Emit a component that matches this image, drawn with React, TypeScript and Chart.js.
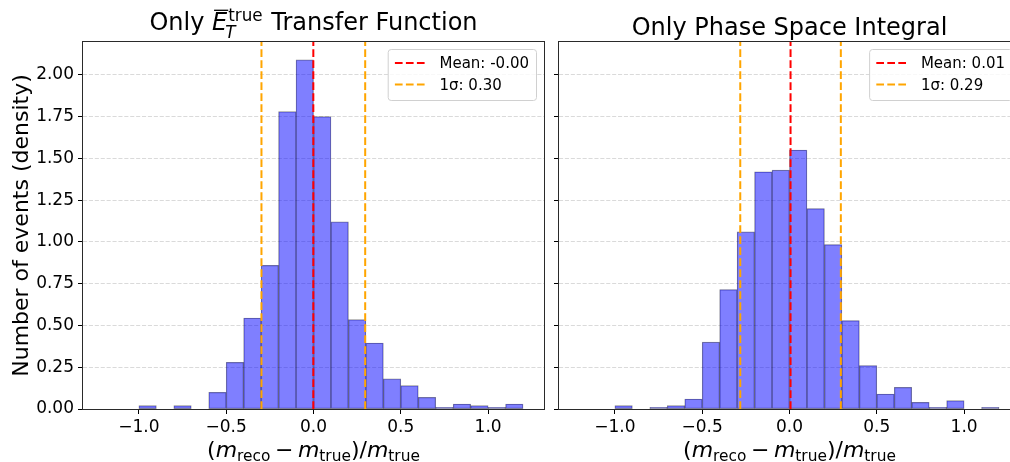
import React, { useEffect, useRef } from 'react';
import { Chart, registerables } from 'chart.js';

Chart.register(...registerables);

// ---------------- data ----------------
const BIN_CENTERS = [
  -1.15, -1.05, -0.95, -0.85, -0.75, -0.65, -0.55, -0.45, -0.35, -0.25, -0.15, -0.05,
  0.05, 0.15, 0.25, 0.35, 0.45, 0.55, 0.65, 0.75, 0.85, 0.95, 1.05, 1.15,
];
const TF_DENSITY = [
  0, 0, 0.02, 0, 0.02, 0, 0.10, 0.28, 0.545, 0.86, 1.78, 2.09,
  1.75, 1.12, 0.535, 0.395, 0.18, 0.14, 0.07, 0.01, 0.03, 0.02, 0.01, 0.03,
];
const PS_DENSITY = [
  0, 0, 0.02, 0, 0.01, 0.02, 0.06, 0.40, 0.715, 1.06, 1.42, 1.43,
  1.55, 1.20, 0.985, 0.53, 0.26, 0.09, 0.13, 0.04, 0.01, 0.05, 0, 0.01,
];
const TF_MEAN = -0.001;
const TF_SIGMA = 0.297;
const PS_MEAN = 0.006;
const PS_SIGMA = 0.288;
const X_TICKS = [-1.0, -0.5, 0.0, 0.5, 1.0];
const Y_TICKS = [0, 0.25, 0.5, 0.75, 1.0, 1.25, 1.5, 1.75, 2.0];
const X_MIN = -1.32;
const X_MAX = 1.32;
const Y_MAX = 2.197;
const Y_LABEL = 'Number of events (density)';

const FAMILY = '"DejaVu Sans"';
Chart.defaults.font.family = FAMILY;

type Run = {
  t?: string;
  size?: number;
  italic?: boolean;
  dy?: number;
  overline?: boolean;
  gapBefore?: number;
  gapAfter?: number;
  stack?: { sup: Run; sub: Run };
};

const fontOf = (r: Run) => `${r.italic ? 'italic ' : ''}${r.size}px ${FAMILY}`;

function runWidth(ctx: CanvasRenderingContext2D, r: Run): number {
  if (r.stack) return Math.max(runWidth(ctx, r.stack.sup), runWidth(ctx, r.stack.sub));
  ctx.font = fontOf(r);
  return (r.gapBefore || 0) + ctx.measureText(r.t || '').width + (r.gapAfter || 0);
}

function drawRun(ctx: CanvasRenderingContext2D, r: Run, x: number, base: number) {
  ctx.font = fontOf(r);
  const w = ctx.measureText(r.t || '').width;
  const x0 = x + (r.gapBefore || 0);
  ctx.fillText(r.t || '', x0, base + (r.dy || 0));
  if (r.overline) {
    ctx.save();
    ctx.strokeStyle = '#000';
    ctx.lineWidth = 1.3;
    ctx.beginPath();
    const oy = base + (r.dy || 0) - (r.size || 0) * 0.8;
    ctx.moveTo(x0 + 2, oy);
    ctx.lineTo(x0 + w + 1, oy);
    ctx.stroke();
    ctx.restore();
  }
}

function drawRuns(ctx: CanvasRenderingContext2D, runs: Run[], cx: number, base: number) {
  const total = runs.reduce((s, r) => s + runWidth(ctx, r), 0);
  let x = cx - total / 2;
  ctx.save();
  ctx.fillStyle = '#000';
  ctx.textBaseline = 'alphabetic';
  ctx.textAlign = 'left';
  for (const r of runs) {
    if (r.stack) {
      drawRun(ctx, r.stack.sup, x + 1, base);
      drawRun(ctx, r.stack.sub, x - 2, base);
    } else {
      drawRun(ctx, r, x, base);
    }
    x += runWidth(ctx, r);
  }
  ctx.restore();
}

const TITLE_TF: Run[] = [
  { t: 'Only ', size: 24 },
  { t: 'E', size: 24, italic: true, overline: true },
  { stack: { sup: { t: 'true', size: 16.8, dy: -8.6, gapAfter: 2 }, sub: { t: 'T', size: 16.8, italic: true, dy: 8 } } },
  { t: ' Transfer Function', size: 24 },
];
const TITLE_PS: Run[] = [{ t: 'Only Phase Space Integral', size: 24 }];
const X_LABEL: Run[] = [
  { t: '(', size: 22 },
  { t: 'm', size: 22, italic: true },
  { t: 'reco', size: 15.4, dy: 4 },
  { t: '\u2212', size: 22, gapBefore: 4.5, gapAfter: 4.5 },
  { t: 'm', size: 22, italic: true },
  { t: 'true', size: 15.4, dy: 4 },
  { t: ')', size: 22 },
  { t: '/', size: 22 },
  { t: 'm', size: 22, italic: true },
  { t: 'true', size: 15.4, dy: 4 },
];

type PanelCfg = {
  values: number[];
  mean: number;
  sigma: number;
  yWidth: number;
  padRight: number;
  showY: boolean;
  title: Run[];
  titleBase: number;
};

function makeChart(canvas: HTMLCanvasElement, cfg: PanelCfg) {
  const decor = {
    id: 'decor',
    afterDatasetsDraw(chart: any) {
      const { ctx, chartArea: a } = chart;
      ctx.save();
      ctx.strokeStyle = '#2a2a2a';
      ctx.lineWidth = 1;
      ctx.strokeRect(a.left - 0.5, a.top - 0.5, a.right - a.left + 1, a.bottom - a.top + 1);
      ctx.restore();
    },
    afterDraw(chart: any) {
      const { ctx, chartArea: a } = chart;
      const cx = (a.left + a.right) / 2;
      drawRuns(ctx, cfg.title, cx, cfg.titleBase);
      drawRuns(ctx, X_LABEL, cx, 456.5);
      if (cfg.showY) {
        ctx.save();
        ctx.translate(28, (a.top + a.bottom) / 2);
        ctx.rotate(-Math.PI / 2);
        ctx.font = `22px ${FAMILY}`;
        ctx.fillStyle = '#000';
        ctx.textAlign = 'center';
        ctx.textBaseline = 'alphabetic';
        ctx.fillText(Y_LABEL, 0, 0);
        ctx.restore();
      }
      // legend
      const labels = [`Mean: ${cfg.mean.toFixed(2)}`, `1\u03c3: ${cfg.sigma.toFixed(2)}`];
      const colors = ['#ff0000', '#ffa500'];
      ctx.save();
      ctx.font = `15px ${FAMILY}`;
      const tw = Math.max(...labels.map((l) => ctx.measureText(l).width));
      const bw = 6.7 + 31 + 13.6 + tw + 7.5;
      const bh = 51;
      const bx = a.right - 7.5 - bw;
      const by = a.top + 7.5;
      ctx.beginPath();
      ctx.roundRect(bx, by, bw, bh, 3);
      ctx.fillStyle = 'rgba(255,255,255,0.8)';
      ctx.fill();
      ctx.strokeStyle = '#d0d0d0';
      ctx.lineWidth = 1;
      ctx.stroke();
      labels.forEach((l, i) => {
        const y = by + 13.4 + i * 21.6;
        ctx.strokeStyle = colors[i];
        ctx.lineWidth = 2;
        ctx.setLineDash([7.7, 3.3]);
        ctx.beginPath();
        ctx.moveTo(bx + 6.7, y);
        ctx.lineTo(bx + 37.7, y);
        ctx.stroke();
        ctx.setLineDash([]);
        ctx.fillStyle = '#000';
        ctx.textAlign = 'left';
        ctx.textBaseline = 'alphabetic';
        ctx.fillText(l, bx + 51.3, y + 5.5);
      });
      ctx.restore();
    },
  };

  const vline = (x: number, color: string, order: number) => ({
    type: 'line' as const,
    data: [
      { x, y: 0 },
      { x, y: Y_MAX },
    ],
    borderColor: color,
    borderWidth: 2,
    borderDash: [7.7, 3.3],
    pointRadius: 0,
    fill: false,
    tension: 0,
    order,
  });

  const tickFont = { size: 17, family: FAMILY };

  return new Chart(canvas, {
    type: 'bar',
    data: {
      datasets: [
        {
          type: 'bar',
          data: BIN_CENTERS.map((x, i) => ({ x, y: cfg.values[i] })),
          backgroundColor: 'rgba(0,0,255,0.5)',
          borderColor: 'rgba(0,0,0,0.45)',
          borderWidth: 0.6,
          borderSkipped: false,
          barPercentage: 1,
          categoryPercentage: 1,
          order: 5,
        } as any,
        vline(cfg.mean, '#ff0000', 3),
        vline(cfg.mean - cfg.sigma, '#ffa500', 2),
        vline(cfg.mean + cfg.sigma, '#ffa500', 1),
      ],
    },
    options: {
      animation: false,
      responsive: false,
      devicePixelRatio: 1,
      events: [],
      layout: { padding: { top: 42, right: cfg.padRight, left: 0, bottom: 0 } },
      plugins: {
        legend: { display: false },
        tooltip: { enabled: false },
        title: { display: false },
      },
      scales: {
        x: {
          type: 'linear',
          min: X_MIN,
          max: X_MAX,
          offset: false,
          grid: {
            display: true,
            drawOnChartArea: false,
            drawTicks: true,
            tickLength: 5,
            tickColor: '#000',
            tickWidth: 1,
            offset: false,
          },
          border: { display: false },
          ticks: {
            font: tickFont,
            color: '#000',
            padding: 3,
            maxRotation: 0,
            autoSkip: false,
            callback: (v: any) => {
              const n = Number(v);
              return n < 0 ? '\u2212' + Math.abs(n).toFixed(1) : n.toFixed(1);
            },
          },
          afterBuildTicks: (ax: any) => {
            ax.ticks = X_TICKS.map((value) => ({ value }));
          },
          afterFit: (ax: any) => {
            ax.height = 53;
          },
        },
        y: {
          type: 'linear',
          min: 0,
          max: Y_MAX,
          grid: {
            color: 'rgba(176,176,176,0.6)',
            lineWidth: 0.8,
            drawTicks: true,
            tickLength: 5,
            tickColor: '#000',
            tickWidth: 1,
          },
          border: { display: false, dash: [4.1, 1.8] },
          ticks: {
            font: tickFont,
            color: '#000',
            padding: 4,
            autoSkip: false,
            callback: (v: any) => (cfg.showY ? Number(v).toFixed(2) : ''),
          },
          afterBuildTicks: (ax: any) => {
            ax.ticks = Y_TICKS.map((value) => ({ value }));
          },
          afterFit: (ax: any) => {
            ax.width = cfg.yWidth;
          },
        },
      },
    } as any,
    plugins: [decor],
  });
}

export default function App() {
  const leftRef = useRef<HTMLCanvasElement>(null);
  const rightRef = useRef<HTMLCanvasElement>(null);

  useEffect(() => {
    const c1 = makeChart(leftRef.current!, {
      values: TF_DENSITY,
      mean: TF_MEAN,
      sigma: TF_SIGMA,
      yWidth: 83,
      padRight: 6,
      showY: true,
      title: TITLE_TF,
      titleBase: 29.5,
    });
    const c2 = makeChart(rightRef.current!, {
      values: PS_DENSITY,
      mean: PS_MEAN,
      sigma: PS_SIGMA,
      yWidth: 9,
      padRight: 10,
      showY: false,
      title: TITLE_PS,
      titleBase: 35,
    });
    return () => {
      c1.destroy();
      c2.destroy();
    };
  }, []);

  return (
    <div
      style={{
        position: 'fixed',
        left: 0,
        top: 0,
        width: 1010,
        height: 462,
        overflow: 'hidden',
        background: '#fff',
      }}
    >
      <canvas
        ref={leftRef}
        width={550}
        height={462}
        style={{ position: 'absolute', left: 0, top: 0, width: 550, height: 462 }}
      />
      <canvas
        ref={rightRef}
        width={480}
        height={462}
        style={{ position: 'absolute', left: 550, top: 0, width: 480, height: 462 }}
      />
    </div>
  );
}
